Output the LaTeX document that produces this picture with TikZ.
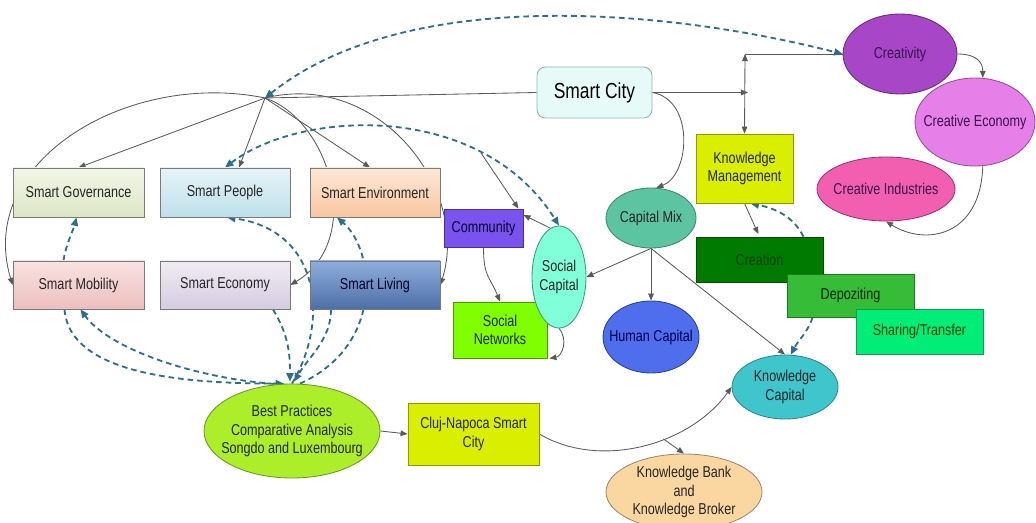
\documentclass[tikz,border=0pt]{standalone}
\usepackage{fontspec}
\setmainfont{Liberation Sans}[FakeStretch=0.8]
\usetikzlibrary{shapes.geometric,arrows.meta,calc}
\pgfdeclarelayer{bg}
\pgfsetlayers{bg,main}
\definecolor{lgray}{HTML}{5A5A5A}
\definecolor{dblue}{HTML}{2C6E8E}
\definecolor{bgray}{HTML}{7A7A7A}
\definecolor{txt}{HTML}{262626}
\definecolor{sgT}{HTML}{F2F6E8}\definecolor{sgB}{HTML}{DCE6C4}
\definecolor{spT}{HTML}{E6F3F8}\definecolor{spB}{HTML}{BEE0EA}
\definecolor{seT}{HTML}{FDE8D7}\definecolor{seB}{HTML}{F9C6A0}
\definecolor{smT}{HTML}{F8E2E1}\definecolor{smB}{HTML}{EDBFBE}
\definecolor{scT}{HTML}{F0ECF4}\definecolor{scB}{HTML}{D4CCE0}
\definecolor{slT}{HTML}{8EAEDC}\definecolor{slB}{HTML}{4D6FA8}
\definecolor{cityF}{HTML}{E6FBF7}\definecolor{cityD}{HTML}{8AB8AE}
\definecolor{creatF}{HTML}{A846C8}\definecolor{creatD}{HTML}{6A2A80}
\definecolor{ceconF}{HTML}{E680E8}\definecolor{ceconD}{HTML}{9A4A9E}
\definecolor{cindF}{HTML}{F35FB0}\definecolor{cindD}{HTML}{A03070}
\definecolor{purpT}{HTML}{3A1050}
\definecolor{yelF}{HTML}{DAEE00}\definecolor{yelD}{HTML}{8A9A00}
\definecolor{creaF}{HTML}{007A00}\definecolor{creaD}{HTML}{004F00}
\definecolor{depoF}{HTML}{36BC36}\definecolor{depoD}{HTML}{1E7A1E}
\definecolor{shareF}{HTML}{00EE78}\definecolor{shareD}{HTML}{139A50}
\definecolor{cmixF}{HTML}{5CC4A0}\definecolor{cmixD}{HTML}{3A8A70}
\definecolor{scapF}{HTML}{80FFD8}\definecolor{scapD}{HTML}{3A9A80}
\definecolor{hcapF}{HTML}{4E6EEE}\definecolor{hcapD}{HTML}{2A40A0}
\definecolor{kcapF}{HTML}{3EC6CC}\definecolor{kcapD}{HTML}{2A8A8E}
\definecolor{commF}{HTML}{7A52EE}\definecolor{commD}{HTML}{4A3090}
\definecolor{snetF}{HTML}{7FFF00}\definecolor{snetD}{HTML}{4A9A00}
\definecolor{bpF}{HTML}{ADEE2A}\definecolor{bpD}{HTML}{6A9A20}
\definecolor{kbF}{HTML}{FAD7A0}\definecolor{kbD}{HTML}{A08A6A}
\newcommand\dfont{\fontsize{11.2}{13}\selectfont}
\tikzset{
  wh/.style 2 args={minimum width=#1*0.025cm, minimum height=#2*0.025cm},
  sbox/.style={rectangle, draw=bgray, line width=0.6pt, inner sep=0pt, align=center, font=\dfont, text=txt},
  ell/.style={ellipse, line width=0.6pt, inner sep=0pt},
  lbl/.style={font=\dfont, text=txt, align=center, inner sep=0pt},
  conn/.style={draw=lgray, line width=0.6pt, >={Triangle[length=5pt,width=4pt]}},
  dsh/.style={draw=dblue, line width=1.3pt, dash pattern=on 4pt off 2.8pt, >={Triangle[length=6pt,width=5pt]}}
}
\begin{document}
\begin{tikzpicture}[x=0.025cm,y=-0.025cm]
\useasboundingbox (0,0) rectangle (1036,523);
\clip (0,0) rectangle (1036,523);
% --- nodes ---
\node[sbox, wh={131}{49}, top color=sgT, bottom color=sgB] (sg) at (78.5,192.5) {Smart Governance};
\node[sbox, wh={130}{49}, top color=spT, bottom color=spB] (sp) at (225,192.5) {Smart People};
\node[sbox, wh={130}{49}, top color=seT, bottom color=seB] (se) at (375,192.5) {Smart Environment};
\node[sbox, wh={131}{48}, top color=smT, bottom color=smB] (smob) at (78.5,285) {Smart Mobility};
\node[sbox, wh={130}{48}, top color=scT, bottom color=scB] (secon) at (225,285) {Smart Economy};
\node[sbox, wh={130}{48}, top color=slT, bottom color=slB, text=black!85!blue] (sliv) at (375,285) {Smart Living};
\node[sbox, wh={115}{51}, rounded corners=6pt, fill=cityF, draw=cityD, font=\fontsize{15.5}{18}\selectfont, text=black] (scity) at (594.5,92.5) {Smart City};
\node[sbox, wh={79}{38}, fill=commF, draw=commD, text=black!80!blue] (comm) at (483.5,228) {Community};
\node[sbox, wh={94}{56}, fill=snetF, draw=snetD] (snet) at (500,330) {Social\\Networks};
\node[ell, wh={54}{102}, fill=scapF, draw=scapD, label={[lbl]center:Social\\Capital}] (scap) at (559,277) {};
\node[ell, wh={90}{60}, fill=cmixF, draw=cmixD, label={[lbl]center:Capital Mix}] (cmix) at (651,218) {};
\node[ell, wh={96}{72}, fill=hcapF, draw=hcapD, label={[lbl,text=black!70!blue]center:Human Capital}] (hcap) at (651,337) {};
\node[ell, wh={106}{64}, fill=kcapF, draw=kcapD, label={[lbl]center:Knowledge\\Capital}] (kcap) at (785,387) {};
\node[sbox, wh={97}{69}, fill=yelF, draw=yelD] (km) at (744.5,168.5) {Knowledge\\Management};
\node[sbox, wh={127}{45}, fill=creaF, draw=creaD, text=black!75!green] (creation) at (759.5,259.5) {Creation};
\node[sbox, wh={127}{43}, fill=depoF, draw=depoD, text=black!85!green] (depo) at (850.5,295.5) {Depoziting};
\node[sbox, wh={127}{45}, fill=shareF, draw=shareD, text=black!75!green] (share) at (919.5,331.5) {Sharing/Transfer};
\node[ell, wh={114}{80}, fill=creatF, draw=creatD, label={[lbl,text=purpT]center:Creativity}] (creat) at (900,54) {};
\node[ell, wh={120}{88}, fill=ceconF, draw=ceconD, label={[lbl,text=purpT]center:Creative Economy}] (cecon) at (975,122) {};
\node[ell, wh={138}{64}, fill=cindF, draw=cindD, label={[lbl,text=purpT]center:Creative Industries}] (cind) at (886,189) {};
\node[ell, wh={176}{94}, fill=bpF, draw=bpD, label={[lbl]center:Best Practices\\Comparative Analysis\\Songdo and Luxembourg}] (bp) at (292,431) {};
\node[sbox, wh={131}{62}, fill=yelF, draw=yelD] (cluj) at (473.5,434) {Cluj-Napoca Smart\\City};
\node[ell, wh={156}{76}, fill=kbF, draw=kbD, label={[lbl]center:Knowledge Bank\\and\\Knowledge Broker}] (kbank) at (684,492) {};
\coordinate (hub) at (265,98);
\coordinate (jc) at (748,92.5);
\coordinate (jt) at (745,54);
\coordinate (cf) at (481,153);
% --- connectors ---
\begin{pgfonlayer}{bg}
\draw[conn] (scity.west) -- (hub);
\draw[conn,->] (hub) -- (sg.north);
\draw[conn,->] (hub) -- ($(sp.north)+(14,0)$);
\draw[conn,->] (hub) -- ($(se.north)+(-5,0)$);
\draw[conn,->] (hub) .. controls (130,70) and (-25,160) .. (smob.west);
\draw[conn,->] (hub) .. controls (330,120) and (365,240) .. (secon.east);
\draw[conn,->] (hub) .. controls (380,70) and (470,190) .. (sliv.east);
\draw[conn,->] (cf) -- ($(comm.north east)+(-5,0)$);
\draw[conn,->] (scap.100) -- ($(comm.east)+(0,-13)$);
\draw[conn,->] (comm.south) .. controls +(0,30) and +(-10,-25) .. (snet.north);
\draw[conn,->] (scap.south) .. controls +(10,12) and +(12,-2) .. ($(snet.south east)+(2,0)$);
\draw[conn,->] (cmix.south) -- (scap.east);
\draw[conn,->] (cmix.south) -- (hcap.north);
\draw[conn,->] (cmix.south) -- (kcap.north);
\draw[conn,->] (scity.east) .. controls (695,100) and (690,175) .. (cmix.80);
\draw[conn,->] (scity.east) -- (jc);
\draw[conn,<->] (jt) -- (km.north);
\draw[conn] (jt) -- (creat.west);
\draw[conn,->,shorten >=2pt] (km.south) -- (creation.north);
\draw[conn,->] (creat.east) .. controls +(20,0) and +(0,-15) .. (cecon.80);
\draw[conn,->] (cecon.-80) .. controls +(-2,70) and +(40,25) .. (cind.south);
\draw[conn,->] (bp.east) -- (cluj.west);
\draw[conn,->] (cluj.east) .. controls (600,470) and (690,445) .. coordinate[pos=0.6] (br) (kcap.west);
\draw[conn,->] (br) -- (kbank.north);
% dashed
\draw[dsh,<->] (hub) .. controls (400,-10) and (650,5) .. (creat.west);
\draw[dsh,<->] (sp.north) .. controls (300,110) and (480,100) .. (scap.north);
\draw[dsh,->] ($(smob.north)+(-15,0)$) .. controls +(2,-15) and +(-3,12) .. ($(sg.south)+(-2,0)$);
\draw[dsh,->] ($(bp.north)+(-8,1)$) .. controls (200,380) and (110,350) .. ($(smob.south)+(2,0)$);
\draw[dsh,->] ($(smob.south)+(-14,0)$) .. controls +(5,65) and +(-100,0) .. ($(bp.north)+(-8,0)$);
\draw[dsh,->] (bp.north) .. controls (330,320) and (320,230) .. ($(sp.south)+(2,0)$);
\draw[dsh,->] ($(bp.north)+(8,0)$) .. controls (385,345) and (375,250) .. ($(se.south)+(-38,0)$);
\draw[dsh,->] ($(sliv.south)+(-44,0)$) .. controls +(0,30) and +(15,-25) .. ($(bp.north)+(2,-2)$);
\draw[dsh,->] ($(secon.south)+(48,0)$) .. controls +(15,25) and +(0,-30) .. ($(bp.north)+(-2,-2)$);
\draw[dsh,->] ($(creation.north east)+(-20,0)$) .. controls +(-10,-20) and +(25,5) .. ($(km.south)+(6,0)$);
\draw[dsh,->] ($(depo.south west)+(26,0)$) .. controls +(-5,15) and +(8,-15) .. (kcap.80);
\end{pgfonlayer}
\end{tikzpicture}
\end{document}
